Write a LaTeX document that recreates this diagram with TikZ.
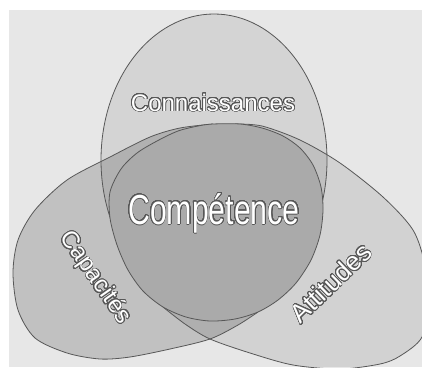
\documentclass[tikz,border=0pt]{standalone}
\usepackage{fontspec}
\setmainfont{Liberation Sans}
\usepackage{xcolor}
\usepackage[copies]{contour}
\usepackage{tikz}
\definecolor{paper}{gray}{0.905}
\definecolor{rim}{gray}{0.34}
\definecolor{core}{gray}{0.665}
\contournumber{32}
\tikzset{
  venn/.style={x=1pt, y=-1pt},
  rimline/.style={draw=rim, line width=0.8pt},
  shade/.style={fill=black, fill opacity=#1},
  lbl/.style={inner sep=0pt, text=white},
}
\newcommand{\capacarc}{plot[smooth] coordinates {(213,124) (180,128) (150,137)
  (110,157) (67,180) (35,210) (18,240) (13,273) (18,310) (35,338) (67,353)
  (100,359) (130,357) (170,349) (210,339) (238,325) (258,312)}}
\newcommand{\attitarc}{plot[smooth] coordinates {(235,124) (262,126) (300,140)
  (340,163) (383,197) (413,230) (425,265) (428,300) (422,337) (400,356)
  (380,364) (340,369) (293,365) (250,353) (210,339) (185,324) (163,307)}}
\newcommand{\outl}[2]{\contourlength{#1}\contour{rim}{#2}}

\begin{document}
\begin{tikzpicture}[venn]
  \useasboundingbox (0,0) rectangle (422,367);
  \fill[white] (0,0) rectangle (422,367);
  \fill[paper] (9,10) rectangle (422,367);
  \begin{scope}
    \clip (9,10) rectangle (422,367);
    \fill[shade=0.08] (214,160) ellipse [x radius=113, y radius=146];
    \fill[shade=0.16] \capacarc -- (215,222) -- cycle;
    \fill[shade=0.09] \attitarc -- (215,222) -- cycle;
    \draw[rimline] (214,160) ellipse [x radius=113, y radius=146];
    \draw[rimline] \capacarc;
    \draw[rimline] \attitarc;
  \end{scope}
  \filldraw[rimline, fill=core] plot[smooth cycle] coordinates {(213,124) (240,124)
    (262,128) (283,136) (300,148) (313,165) (321,187) (323,210) (320,235)
    (311,260) (296,283) (278,300) (258,312) (235,319) (210,321) (186,317)
    (163,307) (143,291) (128,270) (117,245) (110,218) (110,192) (121,169)
    (137,153) (157,141) (178,131) (198,126)};
  \node[lbl, anchor=base, font=\fontsize{24}{24}\selectfont] (conn) at (213,111)
    {\outl{0.75pt}{Connaissances}};
  \node[lbl, anchor=base, font=\fontsize{42}{42}\selectfont] (comp) at (214,224)
    {\scalebox{0.72}[1]{\outl{1pt}{Compétence}}};
  \node[lbl, rotate=-55, font=\fontsize{24}{24}\selectfont] (capa) at (95,278)
    {\outl{0.75pt}{Capacités}};
  \node[lbl, rotate=44, font=\fontsize{26}{26}\selectfont] (atti) at (331,283)
    {\outl{0.75pt}{Attitudes}};
\end{tikzpicture}
\end{document}
